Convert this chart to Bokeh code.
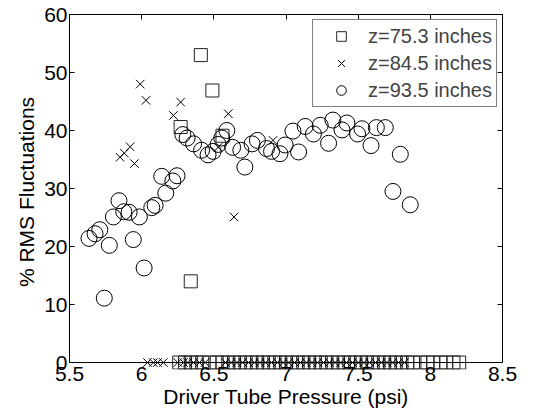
from bokeh.plotting import figure
from bokeh.models import (Legend, LegendItem, LinearAxis, FixedTicker, Span,
                          CustomLabelingPolicy)
from bokeh.embed import file_html
from bokeh.resources import INLINE

# ---- data ----
# z = 75.3 inches (squares)
sq_x = [6.27, 6.34, 6.41, 6.49, 6.56,
        6.26, 6.30, 6.34, 6.38, 6.42, 6.47, 6.52, 6.56, 6.60, 6.64, 6.68, 6.72,
        6.76, 6.80, 6.84, 6.88, 6.92, 6.96, 7.00, 7.04, 7.08, 7.12, 7.16, 7.20,
        7.24, 7.28, 7.32, 7.36, 7.40, 7.44, 7.48, 7.52, 7.56, 7.60, 7.64, 7.68,
        7.72, 7.76, 7.80, 7.84, 7.88, 7.93, 7.98, 8.02, 8.07, 8.11, 8.16, 8.20]
sq_y = [40.6, 14.0, 53.0, 46.9, 39.1,
        0, 0, 0, 0, 0, 0, 0, 0, 0, 0, 0, 0,
        0, 0, 0, 0, 0, 0, 0, 0, 0, 0, 0, 0,
        0, 0, 0, 0, 0, 0, 0, 0, 0, 0, 0, 0,
        0, 0, 0, 0, 0, 0, 0, 0, 0, 0, 0, 0]

# z = 84.5 inches (crosses)
x_x = [5.99, 6.03, 5.85, 5.88, 5.92, 5.95, 6.22, 6.27, 6.60, 6.53, 6.91, 6.64,
       6.04, 6.08, 6.11, 6.15, 6.25, 6.29, 6.32, 6.36, 6.40, 6.44, 6.58, 6.62,
       6.66, 6.70, 6.74, 6.78, 6.82, 6.86, 6.90, 6.94, 6.98, 7.02, 7.06, 7.10,
       7.14, 7.18, 7.22, 7.26, 7.30, 7.34, 7.38, 7.42, 7.46, 7.50, 7.54, 7.58,
       7.62, 7.66, 7.70, 7.74, 7.78, 7.82]
x_y = [48.0, 45.2, 35.4, 36.1, 37.2, 34.3, 42.6, 44.9, 42.9, 37.1, 38.3, 25.1,
       0, 0, 0, 0, 0, 0, 0, 0, 0, 0, 0, 0,
       0, 0, 0, 0, 0, 0, 0, 0, 0, 0, 0, 0,
       0, 0, 0, 0, 0, 0, 0, 0, 0, 0, 0, 0,
       0, 0, 0, 0, 0, 0]

# z = 93.5 inches (circles)
c_x = [5.635, 5.677, 5.71, 5.741, 5.776, 5.804, 5.843, 5.876, 5.913, 5.942,
       5.984, 6.017, 6.07, 6.093, 6.139, 6.167, 6.216, 6.245, 6.285, 6.315,
       6.36, 6.415, 6.46, 6.495, 6.53, 6.555, 6.59, 6.63, 6.687, 6.715,
       6.765, 6.802, 6.865, 6.90, 6.958, 6.994, 7.048, 7.087, 7.133, 7.19,
       7.237, 7.295, 7.325, 7.388, 7.422, 7.496, 7.526, 7.589, 7.626, 7.688,
       7.741, 7.792, 7.861]
c_y = [21.4, 22.2, 22.9, 11.1, 20.2, 25.1, 27.9, 26.0, 25.9, 21.2,
       25.1, 16.3, 26.7, 27.1, 32.1, 29.2, 31.3, 32.2, 39.3, 38.7,
       37.7, 36.6, 35.8, 36.4, 37.6, 38.7, 40.0, 37.1, 36.6, 33.7,
       37.7, 38.3, 36.9, 36.4, 36.0, 37.5, 39.9, 36.3, 40.7, 39.4,
       40.9, 37.8, 41.8, 40.1, 41.3, 39.4, 40.3, 37.4, 40.5, 40.5,
       29.5, 35.9, 27.2]

series_labels = ["z=75.3 inches", "z=84.5 inches", "z=93.5 inches"]
x_ticks = [5.5, 6, 6.5, 7, 7.5, 8, 8.5]
x_tick_labels = ["5.5", "6", "6.5", "7", "7.5", "8", "8.5"]
y_ticks = [0, 10, 20, 30, 40, 50, 60]
y_tick_labels = ["0", "10", "20", "30", "40", "50", "60"]

FONT = "Liberation Sans"

p = figure(width=540, height=414, x_range=(5.5, 8.5), y_range=(-1.2, 60),
           output_backend="svg", toolbar_location=None,
           min_border_left=69, min_border_right=38, min_border_top=14,
           min_border_bottom=45)
p.grid.visible = False
p.outline_line_color = None
p.background_fill_color = "white"
p.border_fill_color = "white"

# zero line (bottom edge of the box, at y = 0)
p.add_layout(Span(location=0, dimension="width", line_color="black", line_width=1))

r_sq = p.scatter(sq_x, sq_y, marker="square", size=13, fill_color=None,
                 line_color="#222222", line_width=1)
r_x = p.scatter(x_x, x_y, marker="x", size=12, line_color="black", line_width=1)
r_c = p.scatter(c_x, c_y, marker="circle", size=16, fill_color=None,
                line_color="black", line_width=1)

hide_labels = CustomLabelingPolicy(
    code="for (const i of indices) { indices.unset(i) } return indices")

def style_axis(ax, ticks, labels, show_labels=True):
    ax.ticker = FixedTicker(ticks=ticks)
    ax.major_label_overrides = {t: l for t, l in zip(ticks, labels)}
    ax.major_tick_in = 5
    ax.major_tick_out = 0
    ax.minor_tick_in = 0
    ax.minor_tick_out = 0
    ax.axis_line_color = "black"
    ax.major_tick_line_color = "black"
    ax.major_label_text_font = FONT
    ax.major_label_text_color = "black"
    if show_labels:
        ax.major_label_text_font_size = "21px"
        ax.major_label_standoff = 2
    else:
        ax.major_label_text_font_size = "1px"
        ax.major_label_standoff = 0
        ax.major_label_policy = hide_labels

xa = p.xaxis[0]
ya = p.yaxis[0]
style_axis(xa, x_ticks, x_tick_labels)
style_axis(ya, y_ticks, y_tick_labels)
xa.axis_line_color = None
xa.major_tick_line_color = None
xa.major_label_standoff = -3
ya.bounds = (0, 60)
xa.axis_label = "Driver Tube Pressure (psi)"
ya.axis_label = "% RMS Fluctuations"
for ax in (xa, ya):
    ax.axis_label_text_font = FONT
    ax.axis_label_text_font_size = "21px"
    ax.axis_label_text_font_style = "normal"
    ax.axis_label_text_color = "black"
xa.axis_label_standoff = 1
ya.axis_label_standoff = 3

top_ax = LinearAxis()
style_axis(top_ax, x_ticks, x_tick_labels, show_labels=False)
p.add_layout(top_ax, "above")
right_ax = LinearAxis()
style_axis(right_ax, y_ticks, y_tick_labels, show_labels=False)
right_ax.bounds = (0, 60)
p.add_layout(right_ax, "right")

legend = Legend(items=[LegendItem(label=series_labels[0], renderers=[r_sq]),
                       LegendItem(label=series_labels[1], renderers=[r_x]),
                       LegendItem(label=series_labels[2], renderers=[r_c])],
                location="top_right", margin=5, padding=4, spacing=3,
                glyph_width=48, glyph_height=24, label_height=24,
                label_standoff=3, label_text_font=FONT,
                label_text_font_size="20px", border_line_color="black",
                border_line_width=1, background_fill_alpha=1.0)
p.add_layout(legend, "center")

open("out.html", "w").write(file_html(p, INLINE))
